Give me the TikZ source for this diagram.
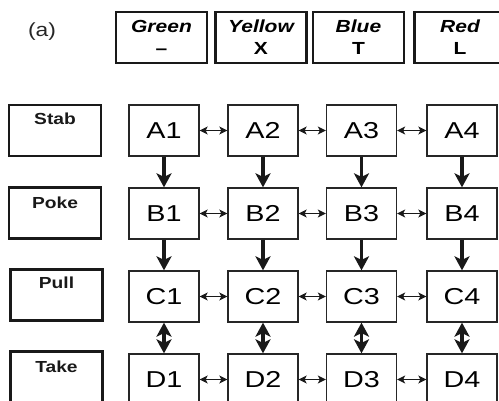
\documentclass[tikz,border=0pt]{standalone}
\usepackage{fontspec}
\setmainfont{Liberation Sans}
\usetikzlibrary{arrows.meta}
\newcommand\sx[1]{\scalebox{1.2}[1]{#1}}
\newcommand\gx[1]{\scalebox{1.25}[1]{#1}}
\begin{document}
\begin{tikzpicture}[x=1pt,y=-1pt,
  hbox/.style={draw=black!90, line width=2.2pt, minimum width=91pt, minimum height=51pt, inner sep=0pt, align=center,
     font=\fontsize{17.5}{22}\selectfont\bfseries\itshape, text=black},
  lbox/.style={draw=black!90, line width=2.2pt, minimum width=92pt, minimum height=51pt, inner sep=0pt},
  ltext/.style={font=\fontsize{16}{16}\selectfont\bfseries, inner sep=0pt, text=black!90},
  gbox/.style={draw=black!85, line width=1.3pt, minimum width=70pt, minimum height=51pt, inner sep=0pt,
     font=\fontsize{23}{24}\selectfont, text=black},
  harrow/.style={line width=1.6pt, draw=black!90, {Stealth[length=8pt,width=8pt,inset=2pt]}-{Stealth[length=8pt,width=8pt,inset=2pt]}},
  varrow/.style={line width=3.2pt, draw=black!90, -{Stealth[length=14pt,width=15pt,inset=3.5pt]}},
  dvarrow/.style={line width=3.2pt, draw=black!90, {Stealth[length=14pt,width=15pt,inset=3.5pt]}-{Stealth[length=14pt,width=15pt,inset=3.5pt]}}
]
\clip (0,0) rectangle (499,401);
\useasboundingbox (0,0) rectangle (499,401);
\node[font=\fontsize{19}{20}\selectfont, text=black!85] (lab) at (42,32) {\sx{(a)}};
% header boxes
\node[hbox] (green)  at (161.5,37.5) {\sx{Green}\\\sx{\upshape –}};
\node[hbox] (yellow) at (261,37.5) {\sx{Yellow}\\\sx{\upshape X}};
\node[hbox] (blue)   at (358.5,37.5) {\sx{Blue}\\\sx{\upshape T}};
\node[hbox] (red)    at (460,37.5) {\sx{Red}\\\sx{\upshape L}};
% left boxes
\node[lbox] (stab) at (55,130.5) {};
\node[lbox] (poke) at (55,213) {};
\node[lbox] (pull) at (56.5,295) {};
\node[lbox] (take) at (56.5,377) {};
\node[ltext] (stabt) at ([yshift=-15pt]stab.north) {\sx{Stab}};
\node[ltext] (poket) at ([yshift=-16pt]poke.north) {\sx{Poke}};
\node[ltext] (pullt) at ([yshift=-14pt]pull.north) {\sx{Pull}};
\node[ltext] (taket) at ([yshift=-16pt]take.north) {\sx{Take}};
% grid
\foreach \r/\y in {A/130.5,B/213.5,C/296.5,D/379.5}{
  \foreach \c/\x in {1/164,2/263,3/361.5,4/462}{
    \node[gbox] (\r\c) at (\x,\y) {\gx{\r\c}};
  }
}
\foreach \r in {A,B,C,D}{
  \draw[harrow] (\r1) -- (\r2);
  \draw[harrow] (\r2) -- (\r3);
  \draw[harrow] (\r3) -- (\r4);
}
\foreach \c in {1,2,3,4}{
  \draw[varrow] (A\c) -- (B\c);
  \draw[varrow] (B\c) -- (C\c);
  \draw[dvarrow] (C\c) -- (D\c);
}
\end{tikzpicture}
\end{document}
